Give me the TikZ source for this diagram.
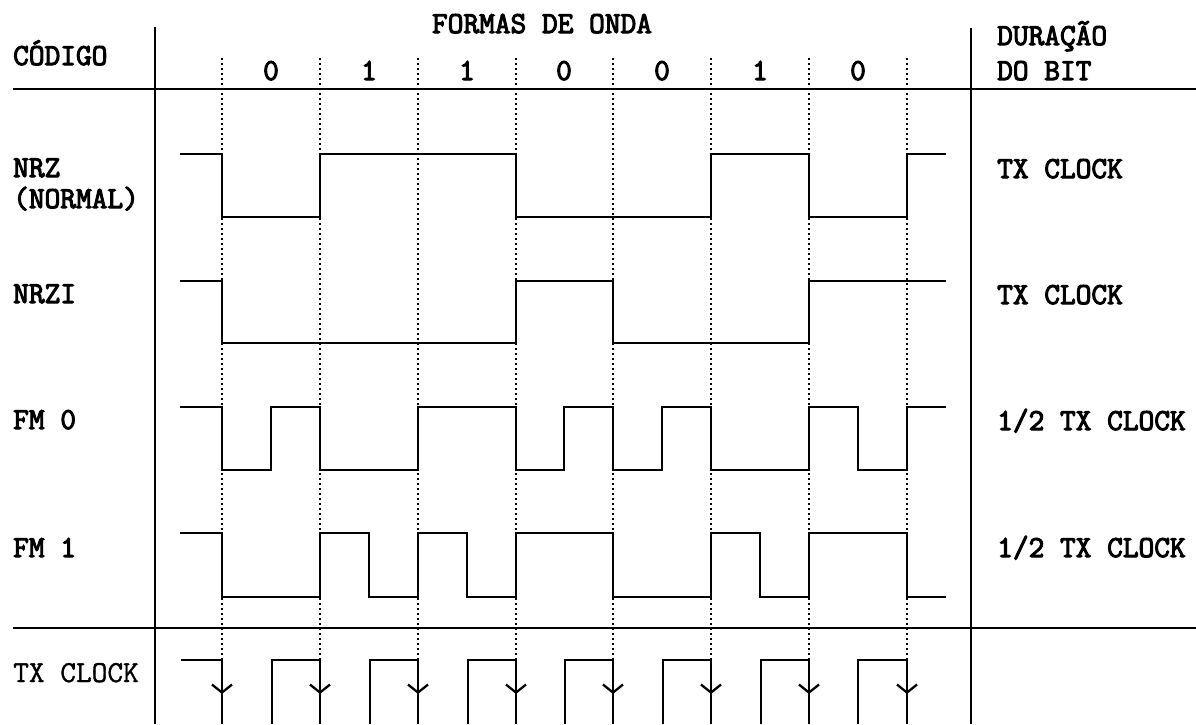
\documentclass[tikz,border=0pt]{standalone}
\usepackage{fontspec}
\usepackage{tikz}
\usetikzlibrary{arrows.meta}
\newfontfamily\codefont{Latin Modern Mono}[FakeBold=3.5]
\newfontfamily\clkfont{Latin Modern Mono}[FakeBold=1.2]

\begin{document}
\begin{tikzpicture}[
  x=1pt, y=-1pt,
  font=\codefont\fontsize{30.5}{32}\selectfont,
  lbl/.style={anchor=base west, inner sep=0pt},
  bit/.style={anchor=base, inner sep=0pt},
  rule/.style={line width=2pt},
  wave/.style={line width=2.3pt},
  bitline/.style={line width=1.7pt, dash pattern=on 2pt off 3pt},
  clkarr/.style={line width=2.3pt, -{Straight Barb[length=8pt, width=20pt, line width=2.3pt]}}
]
\useasboundingbox (0,0) rectangle (1196,724);
% Table frame
\draw[rule] (13,89) -- (1196,89);
\draw[rule] (13,628) -- (1196,628);
\draw[rule] (155,27) -- (155,724);
\draw[rule] (971,28) -- (971,724);
% Header
\node[lbl] (codigo) at (13,65) {CÓDIGO};
\node[bit] (formas) at (542,33) {FORMAS DE ONDA};
\node[lbl] (duracao) at (997,45) {DURAÇÃO};
\node[lbl] (dobit) at (997,80) {DO BIT};
\node[bit] (bA) at (271,80) {0};
\node[bit] (bB) at (369,80) {1};
\node[bit] (bC) at (467,80) {1};
\node[bit] (bD) at (564,80) {0};
\node[bit] (bE) at (662,80) {0};
\node[bit] (bF) at (760,80) {1};
\node[bit] (bG) at (858,80) {0};
% Bit boundaries
\draw[bitline] (222,58) -- (222,660);
\draw[bitline] (320,58) -- (320,660);
\draw[bitline] (418,58) -- (418,660);
\draw[bitline] (516,58) -- (516,660);
\draw[bitline] (613,58) -- (613,660);
\draw[bitline] (711,58) -- (711,660);
\draw[bitline] (809,58) -- (809,660);
\draw[bitline] (907,58) -- (907,660);
% Row labels
\node[lbl] (nrz) at (13,177) {NRZ};
\node[lbl] (normal) at (13,208) {(NORMAL)};
\node[lbl] (nrzi) at (13,303) {NRZI};
\node[lbl] (fmzero) at (13,429) {FM 0};
\node[lbl] (fmone) at (13,557) {FM 1};
\node[lbl] (durA) at (997,178) {TX CLOCK};
\node[lbl] (durB) at (997,304) {TX CLOCK};
\node[lbl] (durC) at (997,430) {1/2 TX CLOCK};
\node[lbl] (durD) at (997,557) {1/2 TX CLOCK};
\node[lbl, font=\clkfont\fontsize{30.5}{32}\selectfont] (txclk) at (13,682) {TX CLOCK};
% Waveforms
\draw[wave] (180,154) -| (222,217) -| (320,154) -| (516,217) -| (711,154) -| (809,217) -| (907,154) -- (946,154);
\draw[wave] (180,281) -| (222,343) -| (516,281) -| (613,343) -| (809,281) -- (946,281);
\draw[wave] (180,407) -| (222,470) -| (271,407) -| (320,470) -| (418,407) -| (516,470) -| (564,407) -| (613,470) -| (662,407) -| (711,470) -| (809,407) -| (858,470) -| (907,407) -- (946,407);
\draw[wave] (180,533) -| (222,597) -| (320,533) -| (369,597) -| (418,533) -| (467,597) -| (516,533) -| (613,597) -| (711,533) -| (760,597) -| (809,533) -| (907,597) -- (946,597);
% Clock
\draw[wave] (181,660) -| (222,724)
  (272,724) |- (320,660) -- (320,724)
  (370,724) |- (418,660) -- (418,724)
  (468,724) |- (516,660) -- (516,724)
  (565,724) |- (613,660) -- (613,724)
  (663,724) |- (711,660) -- (711,724)
  (761,724) |- (809,660) -- (809,724)
  (858,724) |- (907,660) -- (907,724);
\draw[clkarr] (222,676) -- (222,694);
\draw[clkarr] (320,676) -- (320,694);
\draw[clkarr] (418,676) -- (418,694);
\draw[clkarr] (516,676) -- (516,694);
\draw[clkarr] (613,676) -- (613,694);
\draw[clkarr] (711,676) -- (711,694);
\draw[clkarr] (809,676) -- (809,694);
\draw[clkarr] (907,676) -- (907,694);
\end{tikzpicture}
\end{document}
